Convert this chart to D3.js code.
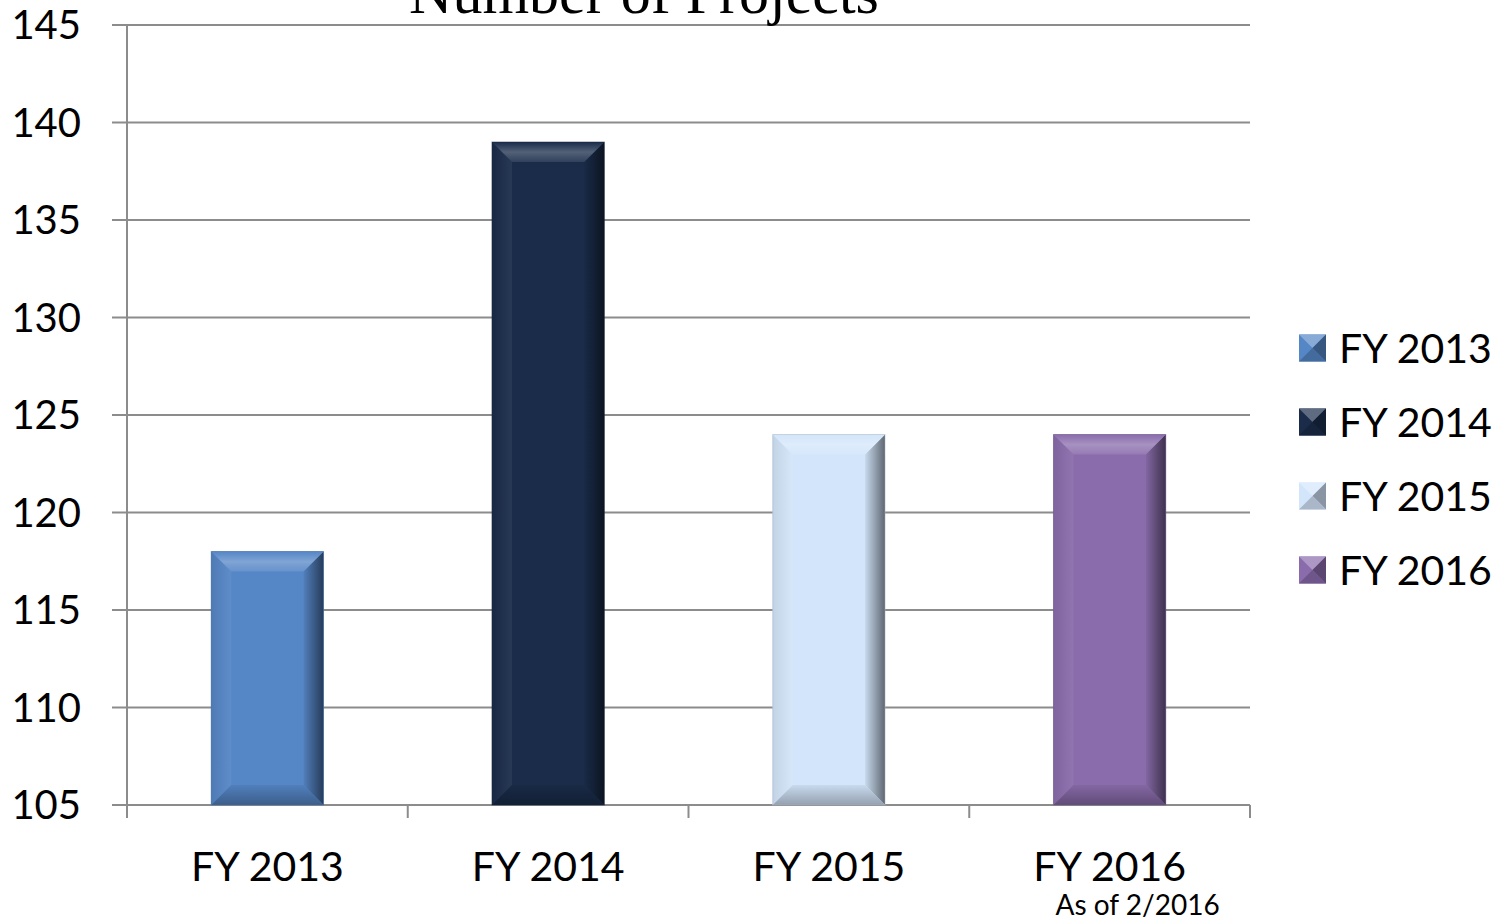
<!DOCTYPE html>
<html><head><meta charset="utf-8">
<script src="https://cdn.jsdelivr.net/npm/d3@7"></script>
<style>body{margin:0;background:#fff}svg{display:block}</style>
</head><body>
<svg id="c" width="1510" height="920"></svg>
<script>
const categories = ["FY 2013","FY 2014","FY 2015","FY 2016"];
const values = [118, 139, 124, 124];
const seriesNames = ["FY 2013","FY 2014","FY 2015","FY 2016"];
const colors = ["#5586c6","#1a2c4a","#d3e5fa","#8a6cac"];
const yTicks = [105,110,115,120,125,130,135,140,145];
const title = "Number of Projects";
const note = "As of 2/2016";

const svg = d3.select("#c");
const M = {l:127, r:1250, t:25, b:805};
const x = d3.scaleBand().domain(categories).range([M.l, M.r]).paddingInner(0.6).paddingOuter(0.3);
const xb = d3.scaleBand().domain(categories).range([M.l, M.r]);
const y = d3.scaleLinear().domain([105,145]).range([M.b, M.t]);
const font = "Lato, 'Open Sans', sans-serif";

const defs = svg.append("defs");
function shade(c, k){ return k>0 ? d3.interpolateRgb(c,"#ffffff")(k) : d3.interpolateRgb(c,"#000000")(-k); }
colors.forEach((c,i)=>{
  const gl = defs.append("linearGradient").attr("id","gl"+i).attr("x1",0).attr("x2",1).attr("y1",0).attr("y2",0);
  gl.append("stop").attr("offset",0).attr("stop-color",shade(c,-0.08));
  gl.append("stop").attr("offset",1).attr("stop-color",shade(c,0.06));
  const gr = defs.append("linearGradient").attr("id","gr"+i).attr("x1",0).attr("x2",1).attr("y1",0).attr("y2",0);
  gr.append("stop").attr("offset",0).attr("stop-color",shade(c,-0.05));
  gr.append("stop").attr("offset",1).attr("stop-color",shade(c,-0.55));
  const gt = defs.append("linearGradient").attr("id","gt"+i).attr("x1",0).attr("x2",0).attr("y1",0).attr("y2",1);
  gt.append("stop").attr("offset",0).attr("stop-color",shade(c,0.0));
  gt.append("stop").attr("offset",0.5).attr("stop-color",shade(c,0.25));
  gt.append("stop").attr("offset",1).attr("stop-color",shade(c,0.1));
  const gb = defs.append("linearGradient").attr("id","gb"+i).attr("x1",0).attr("x2",0).attr("y1",0).attr("y2",1);
  gb.append("stop").attr("offset",0).attr("stop-color",shade(c,-0.05));
  gb.append("stop").attr("offset",1).attr("stop-color",shade(c,-0.3));
});

// gridlines
svg.append("g").selectAll("line").data(yTicks).join("line")
  .attr("x1",M.l-15).attr("x2",M.r).attr("y1",d=>y(d)).attr("y2",d=>y(d))
  .attr("stroke","#8c8c8c").attr("stroke-width",2);
// y axis line
svg.append("line").attr("x1",M.l).attr("x2",M.l).attr("y1",M.t).attr("y2",M.b+13)
  .attr("stroke","#8c8c8c").attr("stroke-width",2);
// x ticks at band boundaries
const bounds = categories.map(c=>xb(c)).concat([M.r]);
svg.append("g").selectAll("line").data(bounds.slice(1)).join("line")
  .attr("x1",d=>d).attr("x2",d=>d).attr("y1",M.b).attr("y2",M.b+13)
  .attr("stroke","#8c8c8c").attr("stroke-width",2);

// y labels
svg.append("g").selectAll("text").data(yTicks).join("text")
  .attr("x",81).attr("y",d=>y(d)).attr("dy","0.36em").attr("text-anchor","end")
  .attr("font-family",font).attr("font-size",40).attr("fill","#000").text(d=>d);

// bars
const bev = 20;
const bars = svg.append("g");
categories.forEach((c,i)=>{
  const x0 = x(c), x1 = x(c)+x.bandwidth(), y0 = y(values[i]), y1 = y(105);
  const g = bars.append("g");
  g.append("rect").attr("x",x0).attr("y",y0).attr("width",x1-x0).attr("height",y1-y0).attr("fill",colors[i]);
  const poly = pts => pts.map(p=>p.join(",")).join(" ");
  g.append("polygon").attr("points",poly([[x0,y0],[x0+bev,y0+bev],[x0+bev,y1-bev],[x0,y1]])).attr("fill",`url(#gl${i})`);
  g.append("polygon").attr("points",poly([[x1,y0],[x1-bev,y0+bev],[x1-bev,y1-bev],[x1,y1]])).attr("fill",`url(#gr${i})`);
  g.append("polygon").attr("points",poly([[x0,y0],[x1,y0],[x1-bev,y0+bev],[x0+bev,y0+bev]])).attr("fill",`url(#gt${i})`);
  g.append("polygon").attr("points",poly([[x0,y1],[x1,y1],[x1-bev,y1-bev],[x0+bev,y1-bev]])).attr("fill",`url(#gb${i})`);
  g.append("rect").attr("x",x0).attr("y",y0).attr("width",x1-x0).attr("height",y1-y0)
    .attr("fill","none").attr("stroke",shade(colors[i],-0.2)).attr("stroke-opacity",0.5).attr("stroke-width",1);
});

// x labels
svg.append("g").selectAll("text").data(categories).join("text")
  .attr("x",d=>xb(d)+xb.bandwidth()/2).attr("y",881).attr("text-anchor","middle")
  .attr("font-family",font).attr("font-size",41).attr("fill","#000").text(d=>d);
svg.append("text").attr("x",xb("FY 2016")+xb.bandwidth()/2+28).attr("y",915).attr("text-anchor","middle")
  .attr("font-family",font).attr("font-size",28).attr("fill","#000").text(note);

// title
svg.append("text").attr("x",644).attr("y",13).attr("text-anchor","middle")
  .attr("font-family","'Liberation Serif', 'DejaVu Serif', serif").attr("font-size",60).attr("fill","#000").text(title);

// legend
const lg = svg.append("g");
seriesNames.forEach((s,i)=>{
  const cy = 348 + i*74;
  const sx = 1299, sz = 27;
  const g = lg.append("g");
  g.append("rect").attr("x",sx).attr("y",cy-sz/2).attr("width",sz).attr("height",sz).attr("fill",colors[i]);
  const poly = pts => pts.map(p=>p.join(",")).join(" ");
  const X0=sx,X1=sx+sz,Y0=cy-sz/2,Y1=cy+sz/2,cx=sx+sz/2;
  g.append("polygon").attr("points",poly([[X0,Y0],[X1,Y0],[cx,cy]])).attr("fill",shade(colors[i],0.3));
  g.append("polygon").attr("points",poly([[X1,Y0],[X1,Y1],[cx,cy]])).attr("fill",shade(colors[i],-0.35));
  g.append("polygon").attr("points",poly([[X0,Y1],[X1,Y1],[cx,cy]])).attr("fill",shade(colors[i],-0.2));
  g.append("text").attr("x",1339).attr("y",cy).attr("dy","0.36em").attr("font-family",font)
    .attr("font-size",41).attr("fill","#000").text(s);
});
</script>
</body></html>
